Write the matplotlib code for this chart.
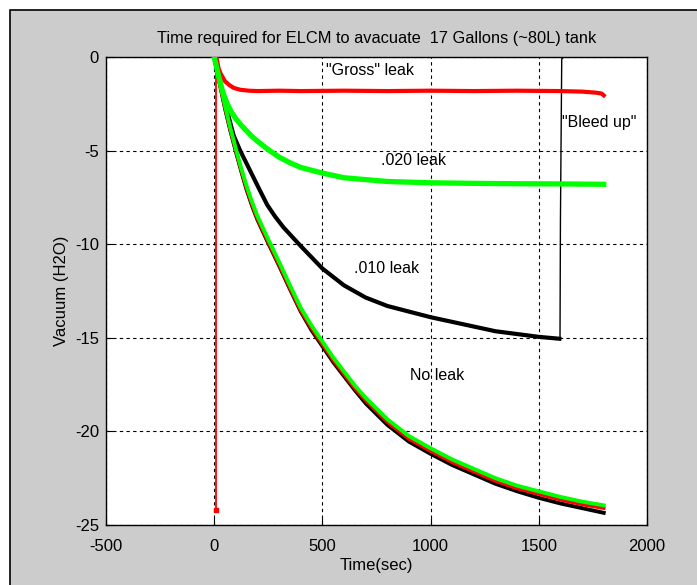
import matplotlib
matplotlib.use("Agg")
import matplotlib.pyplot as plt
from matplotlib.patches import Rectangle

plt.rcParams['font.family'] = ['Liberation Sans', 'DejaVu Sans']
plt.rcParams['axes.unicode_minus'] = False

# ---- data ----
gross_t = [8, 8, 10, 20, 30, 50, 70, 90, 120, 160, 200, 300, 400, 600, 800, 1000, 1200, 1400, 1600, 1700, 1760, 1790, 1800]
gross_v = [-24.2, 0.0, 0.0, -0.6, -0.9, -1.3, -1.5, -1.65, -1.75, -1.8, -1.82, -1.8, -1.82, -1.8, -1.82, -1.8, -1.82, -1.8, -1.82, -1.85, -1.9, -1.95, -2.05]

g020_t = [0, 20, 40, 60, 80, 100, 125, 150, 175, 200, 250, 300, 350, 400, 450, 500, 600, 700, 800, 1000, 1200, 1400, 1600, 1800]
g020_v = [0.0, -1.0, -1.9, -2.5, -2.95, -3.3, -3.65, -3.95, -4.25, -4.5, -4.95, -5.35, -5.65, -5.9, -6.05, -6.2, -6.45, -6.55, -6.65, -6.72, -6.75, -6.77, -6.78, -6.8]

b010_t = [0, 30, 60, 90, 120, 150, 180, 210, 245, 280, 320, 360, 400, 450, 500, 600, 700, 800, 900, 1000, 1100, 1200, 1300, 1400, 1500, 1595]
b010_v = [0.0, -1.5, -2.9, -4.2, -5.0, -5.7, -6.4, -7.1, -7.9, -8.5, -9.1, -9.6, -10.1, -10.7, -11.3, -12.2, -12.85, -13.3, -13.6, -13.9, -14.15, -14.4, -14.65, -14.8, -14.95, -15.05]

bleed_t = [1595, 1598, 1600, 1606, 1616]
bleed_v = [-15.05, -15.0, -8.7, -0.1, 0.0]

noleak_t = [0, 25, 50, 75, 100, 125, 150, 175, 200, 250, 300, 350, 400, 450, 500, 550, 600, 650, 700, 800, 900, 1000, 1100, 1200, 1300, 1400, 1500, 1600, 1700, 1800]
noleak_green = [0.0, -1.3, -2.6, -3.8, -4.9, -5.95, -6.9, -7.75, -8.5, -9.75, -10.95, -12.2, -13.4, -14.35, -15.2, -16.05, -16.8, -17.55, -18.2, -19.35, -20.25, -20.9, -21.5, -22.0, -22.5, -22.9, -23.2, -23.5, -23.75, -23.95]
noleak_red = [0.0, -1.4, -2.7, -3.9, -5.0, -6.05, -7.05, -7.9, -8.65, -9.9, -11.1, -12.35, -13.55, -14.5, -15.35, -16.2, -16.95, -17.7, -18.35, -19.5, -20.4, -21.05, -21.65, -22.15, -22.65, -23.05, -23.35, -23.65, -23.9, -24.1]
noleak_black = [0.0, -1.4, -2.75, -3.95, -5.05, -6.1, -7.1, -7.95, -8.7, -9.95, -11.15, -12.4, -13.6, -14.6, -15.45, -16.3, -17.05, -17.8, -18.5, -19.65, -20.55, -21.2, -21.8, -22.3, -22.8, -23.2, -23.55, -23.85, -24.1, -24.35]

labels = ['"Gross" leak', '.020 leak', '.010 leak', 'No leak', '"Bleed up"']
label_t = [722, 921, 796, 1028, 1778]
label_v = [-0.7, -5.55, -11.3, -17.0, -3.5]

title = 'Time required for ELCM to avacuate  17 Gallons (~80L) tank'

# ---- figure ----
fig = plt.figure(figsize=(6.97, 5.85), dpi=100, facecolor='white')
bg = Rectangle((10/697, -0.01), 1.0, 1 - 10/585 + 0.01, transform=fig.transFigure,
               facecolor='#cccccc', edgecolor='black', linewidth=1.2, zorder=-10)
fig.add_artist(bg)

ax = fig.add_axes([106/697, 60/585, 541/697, 468/585])
ax.set_zorder(5)
ax.set_facecolor('white')

ax.plot(noleak_t, noleak_black, color='black', lw=2.8, zorder=3)
ax.plot(noleak_t, noleak_red, color='#ff0000', lw=2.6, zorder=4)
ax.plot(noleak_t, noleak_green, color='#00ff00', lw=2.8, zorder=5)
ax.plot(b010_t, b010_v, color='black', lw=3.0, zorder=3)
ax.plot(bleed_t, bleed_v, color='black', lw=1.0, zorder=3)
ax.plot(g020_t, g020_v, color='#00ff00', lw=3.8, zorder=5)
ax.plot(gross_t[:2], gross_v[:2], color='#ff0000', lw=1.3, zorder=4)
ax.plot(gross_t[2:], gross_v[2:], color='#ff0000', lw=3.0, zorder=4)
ax.plot([gross_t[0]], [gross_v[0]], 's', color='#ff0000', ms=3, zorder=4)

for s, tx, ty in zip(labels, label_t, label_v):
    ax.text(tx, ty, s, ha='center', va='center', fontsize=11.5, zorder=6)

ax.set_xlim(-500, 2000)
ax.set_ylim(-25, 0)
ax.set_xticks([-500, 0, 500, 1000, 1500, 2000])
ax.set_yticks([-25, -20, -15, -10, -5, 0])
ax.grid(True, color='black', linestyle=(0, (3, 3)), linewidth=0.8)
ax.tick_params(direction='in', length=5, width=0.8, labelsize=12)
ax.tick_params(axis='x', pad=10)
ax.tick_params(axis='y', pad=5)
for sp in ax.spines.values():
    sp.set_linewidth(1.0)
    sp.set_color('black')

ax.set_title(title, fontsize=11.8, pad=10)
ax.set_xlabel('Time(sec)', fontsize=12, labelpad=3)
ax.set_ylabel('Vacuum (H2O)', fontsize=12, labelpad=4)

fig.savefig('out.png', dpi=100, facecolor=fig.get_facecolor())
